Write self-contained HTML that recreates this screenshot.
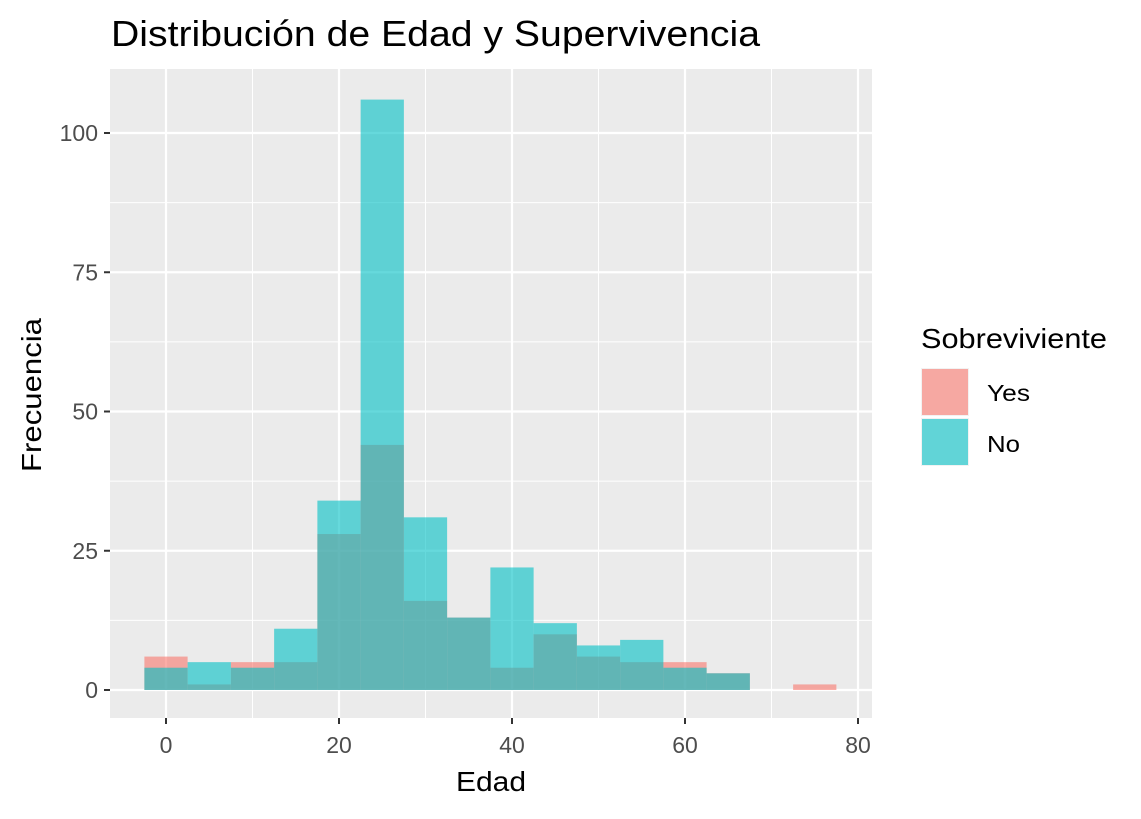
<!DOCTYPE html>
<html><head><meta charset="utf-8"><style>
body{margin:0;background:#fff;font-family:"Liberation Sans",Arial,sans-serif}
</style></head><body>
<svg width="1141" height="814" xmlns="http://www.w3.org/2000/svg" font-family="Liberation Sans, Arial, sans-serif">
<rect width="1141" height="814" fill="#fff"/>
<text x="111" y="46" font-size="36" textLength="649" lengthAdjust="spacingAndGlyphs" fill="#000">Distribución de Edad y Supervivencia</text>
<rect x="110" y="69" width="762" height="649" fill="#EBEBEB"/>
<g id="grid"></g>
<g id="bars"></g>
<g id="axes"></g>
<text x="491" y="791" font-size="28" textLength="70" lengthAdjust="spacingAndGlyphs" text-anchor="middle">Edad</text>
<text transform="translate(41,395) rotate(-90)" font-size="28" textLength="154" lengthAdjust="spacingAndGlyphs" text-anchor="middle">Frecuencia</text>
<g>
<text x="921" y="348" font-size="28" textLength="186" lengthAdjust="spacingAndGlyphs">Sobreviviente</text>
<rect x="921" y="368" width="48" height="48" fill="#F2F2F2"/>
<rect x="922" y="369" width="46" height="46" fill="#F8766D" fill-opacity="0.6"/>
<text x="987" y="401" font-size="23" textLength="43" lengthAdjust="spacingAndGlyphs">Yes</text>
<rect x="921" y="418" width="48" height="48" fill="#F2F2F2"/>
<rect x="922" y="419" width="46" height="46" fill="#00BFC4" fill-opacity="0.6"/>
<text x="987" y="452" font-size="23" textLength="33" lengthAdjust="spacingAndGlyphs">No</text>
</g>
</svg>
<script>
const binCenters=[0,5,10,15,20,25,30,35,40,45,50,55,60,65,70,75];
const yesCounts=[6,1,5,5,28,44,16,13,4,10,6,5,5,3,0,1];
const noCounts=[4,5,4,11,34,106,31,13,22,12,8,9,4,3,0,0];
const xTicks=[0,20,40,60,80];
const yTicks=[0,25,50,75,100];
const binWidth=5;
const NS="http://www.w3.org/2000/svg";
const sx=v=>166+v*8.65;
const sy=v=>690-v*5.57;
const P={l:110,r:872,t:69,b:718};
function mk(tag,attrs,parent){const e=document.createElementNS(NS,tag);for(const k in attrs)e.setAttribute(k,attrs[k]);parent.appendChild(e);return e;}
const grid=document.getElementById('grid');
xTicks.forEach((t,i)=>{
 if(i<xTicks.length-1){const m=(t+xTicks[i+1])/2;const l=mk('line',{x1:sx(m),x2:sx(m),y1:P.t,y2:P.b,stroke:'#fff','stroke-width':1},grid);
 
 }
 const g=mk('line',{x1:sx(t),x2:sx(t),y1:P.t,y2:P.b,stroke:'#fff','stroke-width':2.2},grid);
 
 
});
yTicks.forEach((t,i)=>{
 if(i<yTicks.length-1){const m=(t+yTicks[i+1])/2;const l=mk('line',{x1:P.l,x2:P.r,y1:sy(m),y2:sy(m),stroke:'#fff','stroke-width':1},grid);
 
 }
 const g=mk('line',{x1:P.l,x2:P.r,y1:sy(t),y2:sy(t),stroke:'#fff','stroke-width':2.2},grid);
 
 
});
const bars=document.getElementById('bars');
function drawSeries(vals,color,name){
 vals.forEach((v,i)=>{
  if(v<=0)return;
  const c=binCenters[i];
  const r=mk('rect',{x:sx(c-binWidth/2),y:sy(v),width:sx(c+binWidth/2)-sx(c-binWidth/2),height:sy(0)-sy(v),fill:color,'fill-opacity':0.6},bars);
  
  
 });
}
drawSeries(yesCounts,'#F8766D','yes');
drawSeries(noCounts,'#00BFC4','no');
const axes=document.getElementById('axes');
xTicks.forEach(t=>{
 mk('line',{x1:sx(t),x2:sx(t),y1:P.b,y2:P.b+6,stroke:'#333','stroke-width':2},axes);
 const tx=mk('text',{x:sx(t),y:P.b+35,'font-size':23,fill:'#4D4D4D','text-anchor':'middle'},axes);
 tx.textContent=t;
 
 
});
yTicks.forEach(t=>{
 mk('line',{x1:P.l-6,x2:P.l,y1:sy(t),y2:sy(t),stroke:'#333','stroke-width':2},axes);
 const tx=mk('text',{x:P.l-12,y:sy(t)+8,'font-size':23,fill:'#4D4D4D','text-anchor':'end'},axes);
 tx.textContent=t;
 
 
});
</script>
</body></html>
